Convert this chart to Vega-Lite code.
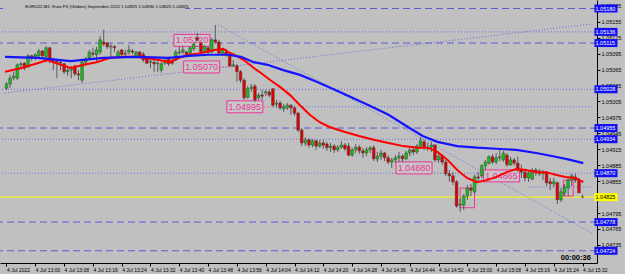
{
"$schema":"https://vega.github.io/schema/vega-lite/v6.json",
"width":597,"height":263,"autosize":"none",
"padding":{"left":0,"top":0,"right":28,"bottom":11},
"background":"#c0c0c0",
"config":{"view":{"stroke":null},"font":"Liberation Sans"},
"resolve":{"axis":{"x":"independent","y":"independent"}},
"datasets":{
"bars":[
{"m":0,"o":1.05030,"h":1.05042,"l":1.05027,"c":1.05038},
{"m":1,"o":1.05038,"h":1.05055,"l":1.05030,"c":1.05049},
{"m":2,"o":1.05049,"h":1.05061,"l":1.05045,"c":1.05053},
{"m":3,"o":1.05049,"h":1.05077,"l":1.05045,"c":1.05074},
{"m":4,"o":1.05074,"h":1.05079,"l":1.05068,"c":1.05076},
{"m":5,"o":1.05077,"h":1.05079,"l":1.05064,"c":1.05068},
{"m":6,"o":1.05070,"h":1.05094,"l":1.05068,"c":1.05091},
{"m":7,"o":1.05091,"h":1.05093,"l":1.05081,"c":1.05087},
{"m":8,"o":1.05087,"h":1.05096,"l":1.05083,"c":1.05093},
{"m":9,"o":1.05091,"h":1.05104,"l":1.05087,"c":1.05100},
{"m":10,"o":1.05100,"h":1.05102,"l":1.05087,"c":1.05091},
{"m":11,"o":1.05089,"h":1.05109,"l":1.05079,"c":1.05106},
{"m":12,"o":1.05106,"h":1.05108,"l":1.05077,"c":1.05083},
{"m":13,"o":1.05083,"h":1.05087,"l":1.05064,"c":1.05081},
{"m":14,"o":1.05081,"h":1.05085,"l":1.05049,"c":1.05079},
{"m":15,"o":1.05079,"h":1.05081,"l":1.05064,"c":1.05077},
{"m":16,"o":1.05076,"h":1.05077,"l":1.05057,"c":1.05061},
{"m":17,"o":1.05061,"h":1.05072,"l":1.05053,"c":1.05064},
{"m":18,"o":1.05064,"h":1.05072,"l":1.05049,"c":1.05068},
{"m":19,"o":1.05072,"h":1.05074,"l":1.05053,"c":1.05057},
{"m":20,"o":1.05057,"h":1.05064,"l":1.05045,"c":1.05055},
{"m":21,"o":1.05045,"h":1.05083,"l":1.05040,"c":1.05079},
{"m":22,"o":1.05079,"h":1.05089,"l":1.05072,"c":1.05083},
{"m":23,"o":1.05087,"h":1.05102,"l":1.05083,"c":1.05098},
{"m":24,"o":1.05096,"h":1.05106,"l":1.05089,"c":1.05094},
{"m":25,"o":1.05093,"h":1.05108,"l":1.05079,"c":1.05102},
{"m":26,"o":1.05098,"h":1.05128,"l":1.05093,"c":1.05121},
{"m":27,"o":1.05117,"h":1.05140,"l":1.05109,"c":1.05113},
{"m":28,"o":1.05115,"h":1.05117,"l":1.05104,"c":1.05108},
{"m":29,"o":1.05108,"h":1.05113,"l":1.05087,"c":1.05109},
{"m":30,"o":1.05108,"h":1.05111,"l":1.05098,"c":1.05106},
{"m":31,"o":1.05089,"h":1.05102,"l":1.05087,"c":1.05098},
{"m":32,"o":1.05102,"h":1.05104,"l":1.05091,"c":1.05093},
{"m":33,"o":1.05094,"h":1.05102,"l":1.05091,"c":1.05096},
{"m":34,"o":1.05098,"h":1.05111,"l":1.05093,"c":1.05102},
{"m":35,"o":1.05100,"h":1.05104,"l":1.05094,"c":1.05098},
{"m":36,"o":1.05089,"h":1.05100,"l":1.05087,"c":1.05098},
{"m":37,"o":1.05098,"h":1.05100,"l":1.05087,"c":1.05089},
{"m":38,"o":1.05094,"h":1.05098,"l":1.05079,"c":1.05083},
{"m":39,"o":1.05087,"h":1.05089,"l":1.05076,"c":1.05077},
{"m":40,"o":1.05079,"h":1.05087,"l":1.05068,"c":1.05080},
{"m":41,"o":1.05079,"h":1.05083,"l":1.05061,"c":1.05076},
{"m":42,"o":1.05076,"h":1.05083,"l":1.05061,"c":1.05077},
{"m":43,"o":1.05064,"h":1.05079,"l":1.05059,"c":1.05076},
{"m":44,"o":1.05077,"h":1.05085,"l":1.05074,"c":1.05083},
{"m":45,"o":1.05087,"h":1.05089,"l":1.05072,"c":1.05076},
{"m":46,"o":1.05081,"h":1.05085,"l":1.05074,"c":1.05077},
{"m":47,"o":1.05083,"h":1.05102,"l":1.05081,"c":1.05098},
{"m":48,"o":1.05098,"h":1.05108,"l":1.05093,"c":1.05097},
{"m":49,"o":1.05098,"h":1.05109,"l":1.05094,"c":1.05102},
{"m":50,"o":1.05098,"h":1.05100,"l":1.05091,"c":1.05093},
{"m":51,"o":1.05096,"h":1.05109,"l":1.05094,"c":1.05106},
{"m":52,"o":1.05104,"h":1.05117,"l":1.05100,"c":1.05113},
{"m":53,"o":1.05125,"h":1.05134,"l":1.05119,"c":1.05120},
{"m":54,"o":1.05115,"h":1.05117,"l":1.05096,"c":1.05098},
{"m":55,"o":1.05098,"h":1.05111,"l":1.05096,"c":1.05108},
{"m":56,"o":1.05106,"h":1.05109,"l":1.05094,"c":1.05098},
{"m":57,"o":1.05098,"h":1.05125,"l":1.05096,"c":1.05121},
{"m":58,"o":1.05121,"h":1.05149,"l":1.05113,"c":1.05117},
{"m":59,"o":1.05117,"h":1.05121,"l":1.05093,"c":1.05096},
{"m":60,"o":1.05096,"h":1.05106,"l":1.05091,"c":1.05102},
{"m":61,"o":1.05098,"h":1.05104,"l":1.05089,"c":1.05093},
{"m":62,"o":1.05093,"h":1.05094,"l":1.05070,"c":1.05072},
{"m":63,"o":1.05072,"h":1.05083,"l":1.05070,"c":1.05074},
{"m":64,"o":1.05072,"h":1.05076,"l":1.05042,"c":1.05061},
{"m":65,"o":1.05061,"h":1.05064,"l":1.05040,"c":1.05045},
{"m":66,"o":1.05045,"h":1.05049,"l":1.05008,"c":1.05012},
{"m":67,"o":1.05013,"h":1.05034,"l":1.05010,"c":1.05029},
{"m":68,"o":1.05029,"h":1.05038,"l":1.05023,"c":1.05032},
{"m":69,"o":1.05034,"h":1.05038,"l":1.05004,"c":1.05008},
{"m":70,"o":1.05012,"h":1.05021,"l":1.05008,"c":1.05017},
{"m":71,"o":1.05017,"h":1.05027,"l":1.05008,"c":1.05015},
{"m":72,"o":1.05021,"h":1.05027,"l":1.05015,"c":1.05023},
{"m":73,"o":1.05023,"h":1.05027,"l":1.05013,"c":1.05017},
{"m":74,"o":1.05029,"h":1.05030,"l":1.04995,"c":1.04998},
{"m":75,"o":1.05000,"h":1.05008,"l":1.04993,"c":1.05002},
{"m":76,"o":1.05002,"h":1.05006,"l":1.04989,"c":1.04993},
{"m":77,"o":1.04991,"h":1.05000,"l":1.04985,"c":1.04995},
{"m":78,"o":1.04993,"h":1.05002,"l":1.04989,"c":1.04998},
{"m":79,"o":1.04998,"h":1.05000,"l":1.04980,"c":1.04993},
{"m":80,"o":1.04993,"h":1.04997,"l":1.04978,"c":1.04983},
{"m":81,"o":1.04983,"h":1.04985,"l":1.04948,"c":1.04951},
{"m":82,"o":1.04951,"h":1.04955,"l":1.04921,"c":1.04927},
{"m":83,"o":1.04927,"h":1.04938,"l":1.04921,"c":1.04933},
{"m":84,"o":1.04933,"h":1.04936,"l":1.04918,"c":1.04923},
{"m":85,"o":1.04923,"h":1.04934,"l":1.04919,"c":1.04931},
{"m":86,"o":1.04931,"h":1.04933,"l":1.04914,"c":1.04921},
{"m":87,"o":1.04921,"h":1.04933,"l":1.04918,"c":1.04927},
{"m":88,"o":1.04927,"h":1.04933,"l":1.04916,"c":1.04923},
{"m":89,"o":1.04925,"h":1.04929,"l":1.04912,"c":1.04918},
{"m":90,"o":1.04918,"h":1.04927,"l":1.04910,"c":1.04921},
{"m":91,"o":1.04921,"h":1.04925,"l":1.04908,"c":1.04914},
{"m":92,"o":1.04914,"h":1.04923,"l":1.04910,"c":1.04919},
{"m":93,"o":1.04919,"h":1.04931,"l":1.04916,"c":1.04923},
{"m":94,"o":1.04923,"h":1.04927,"l":1.04912,"c":1.04916},
{"m":95,"o":1.04921,"h":1.04927,"l":1.04902,"c":1.04904},
{"m":96,"o":1.04904,"h":1.04918,"l":1.04901,"c":1.04914},
{"m":97,"o":1.04914,"h":1.04925,"l":1.04908,"c":1.04919},
{"m":98,"o":1.04919,"h":1.04923,"l":1.04906,"c":1.04912},
{"m":99,"o":1.04912,"h":1.04918,"l":1.04899,"c":1.04908},
{"m":100,"o":1.04908,"h":1.04919,"l":1.04902,"c":1.04914},
{"m":101,"o":1.04914,"h":1.04921,"l":1.04908,"c":1.04918},
{"m":102,"o":1.04918,"h":1.04923,"l":1.04893,"c":1.04897},
{"m":103,"o":1.04897,"h":1.04910,"l":1.04891,"c":1.04902},
{"m":104,"o":1.04902,"h":1.04914,"l":1.04895,"c":1.04908},
{"m":105,"o":1.04908,"h":1.04910,"l":1.04893,"c":1.04899},
{"m":106,"o":1.04899,"h":1.04904,"l":1.04887,"c":1.04891},
{"m":107,"o":1.04891,"h":1.04899,"l":1.04880,"c":1.04895},
{"m":108,"o":1.04895,"h":1.04904,"l":1.04889,"c":1.04899},
{"m":109,"o":1.04899,"h":1.04910,"l":1.04891,"c":1.04902},
{"m":110,"o":1.04902,"h":1.04906,"l":1.04891,"c":1.04897},
{"m":111,"o":1.04897,"h":1.04912,"l":1.04895,"c":1.04908},
{"m":112,"o":1.04908,"h":1.04918,"l":1.04902,"c":1.04914},
{"m":113,"o":1.04914,"h":1.04919,"l":1.04904,"c":1.04910},
{"m":114,"o":1.04910,"h":1.04925,"l":1.04906,"c":1.04921},
{"m":115,"o":1.04921,"h":1.04938,"l":1.04918,"c":1.04931},
{"m":116,"o":1.04929,"h":1.04933,"l":1.04914,"c":1.04918},
{"m":117,"o":1.04918,"h":1.04927,"l":1.04912,"c":1.04919},
{"m":118,"o":1.04919,"h":1.04929,"l":1.04910,"c":1.04923},
{"m":119,"o":1.04923,"h":1.04925,"l":1.04891,"c":1.04895},
{"m":120,"o":1.04895,"h":1.04908,"l":1.04889,"c":1.04902},
{"m":121,"o":1.04902,"h":1.04906,"l":1.04886,"c":1.04891},
{"m":122,"o":1.04891,"h":1.04895,"l":1.04865,"c":1.04869},
{"m":123,"o":1.04869,"h":1.04876,"l":1.04854,"c":1.04865},
{"m":124,"o":1.04865,"h":1.04872,"l":1.04848,"c":1.04854},
{"m":125,"o":1.04854,"h":1.04857,"l":1.04805,"c":1.04808},
{"m":126,"o":1.04810,"h":1.04823,"l":1.04797,"c":1.04812},
{"m":127,"o":1.04810,"h":1.04831,"l":1.04801,"c":1.04827},
{"m":128,"o":1.04827,"h":1.04848,"l":1.04820,"c":1.04842},
{"m":129,"o":1.04842,"h":1.04850,"l":1.04827,"c":1.04838},
{"m":130,"o":1.04835,"h":1.04867,"l":1.04831,"c":1.04863},
{"m":131,"o":1.04863,"h":1.04872,"l":1.04854,"c":1.04861},
{"m":132,"o":1.04865,"h":1.04887,"l":1.04861,"c":1.04884},
{"m":133,"o":1.04884,"h":1.04895,"l":1.04876,"c":1.04891},
{"m":134,"o":1.04889,"h":1.04904,"l":1.04886,"c":1.04901},
{"m":135,"o":1.04901,"h":1.04906,"l":1.04887,"c":1.04891},
{"m":136,"o":1.04891,"h":1.04908,"l":1.04887,"c":1.04899},
{"m":137,"o":1.04899,"h":1.04914,"l":1.04893,"c":1.04901},
{"m":138,"o":1.04895,"h":1.04912,"l":1.04891,"c":1.04908},
{"m":139,"o":1.04904,"h":1.04908,"l":1.04882,"c":1.04886},
{"m":140,"o":1.04886,"h":1.04901,"l":1.04884,"c":1.04895},
{"m":141,"o":1.04895,"h":1.04899,"l":1.04884,"c":1.04889},
{"m":142,"o":1.04889,"h":1.04901,"l":1.04872,"c":1.04876},
{"m":143,"o":1.04876,"h":1.04886,"l":1.04861,"c":1.04872},
{"m":144,"o":1.04872,"h":1.04876,"l":1.04855,"c":1.04861},
{"m":145,"o":1.04861,"h":1.04874,"l":1.04854,"c":1.04870},
{"m":146,"o":1.04859,"h":1.04880,"l":1.04857,"c":1.04876},
{"m":147,"o":1.04876,"h":1.04880,"l":1.04865,"c":1.04872},
{"m":148,"o":1.04874,"h":1.04878,"l":1.04865,"c":1.04869},
{"m":149,"o":1.04869,"h":1.04876,"l":1.04857,"c":1.04872},
{"m":150,"o":1.04872,"h":1.04874,"l":1.04846,"c":1.04852},
{"m":151,"o":1.04854,"h":1.04861,"l":1.04838,"c":1.04850},
{"m":152,"o":1.04850,"h":1.04861,"l":1.04844,"c":1.04854},
{"m":153,"o":1.04852,"h":1.04854,"l":1.04812,"c":1.04820},
{"m":154,"o":1.04820,"h":1.04842,"l":1.04816,"c":1.04835},
{"m":155,"o":1.04833,"h":1.04850,"l":1.04827,"c":1.04844},
{"m":156,"o":1.04842,"h":1.04861,"l":1.04827,"c":1.04857},
{"m":157,"o":1.04857,"h":1.04869,"l":1.04846,"c":1.04865},
{"m":158,"o":1.04863,"h":1.04869,"l":1.04852,"c":1.04857},
{"m":159,"o":1.04857,"h":1.04861,"l":1.04833,"c":1.04833},
{"m":160,"o":1.04825,"h":1.04830,"l":1.04825,"c":1.04825}
],
"red":[
{"m":-0.41,"p":1.05061},{"m":4.23,"p":1.05068},{"m":8.6,"p":1.05077},{"m":11.33,"p":1.05083},{"m":15.16,"p":1.05074},{"m":17.89,"p":1.05068},{"m":21.44,"p":1.05074},{"m":24.99,"p":1.05079},{"m":28.81,"p":1.05087},{"m":32.36,"p":1.05089},{"m":35.91,"p":1.05089},{"m":38.64,"p":1.05087},{"m":42.46,"p":1.05083},{"m":45.19,"p":1.05079},{"m":47.92,"p":1.05087},{"m":50.66,"p":1.05093},{"m":54.2,"p":1.05096},{"m":57.76,"p":1.05102},{"m":60.21,"p":1.05104},{"m":61.58,"p":1.05098},{"m":63.22,"p":1.05093},{"m":65.95,"p":1.05083},{"m":68.68,"p":1.05068},{"m":70.59,"p":1.05059},{"m":73.32,"p":1.05045},{"m":76.05,"p":1.05032},{"m":78.78,"p":1.05017},{"m":81.51,"p":1.04998},{"m":84.24,"p":1.04980},{"m":86.98,"p":1.04966},{"m":89.71,"p":1.04957},{"m":93.8,"p":1.04948},{"m":97.9,"p":1.04940},{"m":102.0,"p":1.04933},{"m":106.1,"p":1.04927},{"m":110.2,"p":1.04921},{"m":114.3,"p":1.04918},{"m":117.0,"p":1.04918},{"m":119.7,"p":1.04910},{"m":122.5,"p":1.04895},{"m":125.2,"p":1.04876},{"m":127.9,"p":1.04861},{"m":130.7,"p":1.04853},{"m":133.4,"p":1.04857},{"m":136.1,"p":1.04863},{"m":138.9,"p":1.04872},{"m":141.6,"p":1.04878},{"m":144.3,"p":1.04876},{"m":147.1,"p":1.04872},{"m":149.8,"p":1.04872},{"m":152.5,"p":1.04867},{"m":155.2,"p":1.04863},{"m":158.0,"p":1.04861},{"m":160.2,"p":1.04853}
],
"blue":[
{"m":-0.41,"p":1.05089},{"m":8.6,"p":1.05087},{"m":17.89,"p":1.05081},{"m":26.9,"p":1.05087},{"m":35.91,"p":1.05089},{"m":45.19,"p":1.05087},{"m":50.66,"p":1.05091},{"m":56.12,"p":1.05093},{"m":61.58,"p":1.05093},{"m":65.13,"p":1.05089},{"m":68.68,"p":1.05079},{"m":72.5,"p":1.05074},{"m":76.87,"p":1.05064},{"m":81.51,"p":1.05055},{"m":86.16,"p":1.05042},{"m":90.25,"p":1.05030},{"m":95.17,"p":1.05015},{"m":100.6,"p":1.04998},{"m":106.1,"p":1.04980},{"m":111.5,"p":1.04957},{"m":115.6,"p":1.04940},{"m":119.7,"p":1.04929},{"m":125.2,"p":1.04921},{"m":130.7,"p":1.04918},{"m":136.1,"p":1.04916},{"m":141.6,"p":1.04914},{"m":147.1,"p":1.04908},{"m":152.5,"p":1.04901},{"m":156.6,"p":1.04895},{"m":160.2,"p":1.04889}
],
"hl":[
{"p":1.05180,"k":"dash"},{"p":1.05115,"k":"dash"},{"p":1.04955,"k":"dash"},{"p":1.04778,"k":"dash"},{"p":1.04724,"k":"dash"},
{"p":1.05136,"k":"dot"},{"p":1.05028,"k":"dot"},{"p":1.04934,"k":"dot"},{"p":1.04870,"k":"dot"},
{"p":1.04825,"k":"bid"}
],
"part":[{"m1":74,"p":1.04995},{"m1":145,"p":1.04844}],
"trend":[{"m1":-0.41,"p1":1.05021,"m2":162.62,"p2":1.05151},{"m1":58.85,"p1":1.05149,"m2":162.62,"p2":1.04757}],
"ranges":[{"m1":154.7,"m2":157.4,"p1":1.04857,"p2":1.04827},{"m1":126.0,"m2":130.0,"p1":1.04842,"p2":1.04805}],
"labels":[{"m":51.5,"p":1.05120},{"m":54.2,"p":1.05070},{"m":66.2,"p":1.04995},{"m":113.2,"p":1.04880},{"m":137.5,"p":1.04865}],
"conn":[{"m1":59.1,"m2":63.2,"p":1.05070},{"m1":70.6,"m2":73.9,"p":1.04995}]
},
"layer":[
{"data":{"name":"hl"},"transform":[{"filter":"datum.k=='dash'"}],"mark":{"type":"rule","color":"#5a5ad8","strokeDash":[7,4],"strokeWidth":1},
 "encoding":{"y":{"field":"p","type":"quantitative","scale":{"domain":[1.04701,1.05196],"nice":false,"zero":false},"axis":null}}},
{"data":{"name":"hl"},"transform":[{"filter":"datum.k=='dot'"}],"mark":{"type":"rule","color":"#6a6ae6","strokeDash":[1,2],"strokeWidth":1},
 "encoding":{"y":{"field":"p","type":"quantitative","scale":{"domain":[1.04701,1.05196],"nice":false,"zero":false},"axis":null}}},
{"data":{"name":"hl"},"transform":[{"filter":"datum.k=='bid'"}],"mark":{"type":"rule","color":"#ffff00","strokeWidth":1},
 "encoding":{"y":{"field":"p","type":"quantitative","scale":{"domain":[1.04701,1.05196],"nice":false,"zero":false},"axis":null}}},
{"data":{"name":"part"},"mark":{"type":"rule","color":"#6a6ae6","strokeDash":[1,2],"strokeWidth":1},
 "encoding":{"x":{"field":"m1","type":"quantitative","scale":{"domain":[-0.41,162.62],"nice":false,"zero":false},"axis":null},"x2":{"datum":162.62},
 "y":{"field":"p","type":"quantitative","scale":{"domain":[1.04701,1.05196],"nice":false,"zero":false},"axis":null}}},
{"data":{"name":"trend"},"mark":{"type":"rule","color":"#6a6ae6","strokeDash":[1,2],"strokeWidth":1},
 "encoding":{"x":{"field":"m1","type":"quantitative","scale":{"domain":[-0.41,162.62],"nice":false,"zero":false},"axis":null},"x2":{"field":"m2"},
 "y":{"field":"p1","type":"quantitative","scale":{"domain":[1.04701,1.05196],"nice":false,"zero":false},"axis":null},"y2":{"field":"p2"}}},
{"data":{"values":[{"txt":"EURU22,M1:  Euro FX (Globex) September 2022  1.04825 1.04830 1.04825 1.04825"}]},
 "mark":{"type":"rect","fill":"#c0c0c0"},
 "encoding":{"x":{"datum":-0.41,"type":"quantitative","scale":{"domain":[-0.41,162.62],"nice":false,"zero":false},"axis":null},"x2":{"datum":49.6},
 "y":{"datum":1.05193,"type":"quantitative","scale":{"domain":[1.04701,1.05196],"nice":false,"zero":false},"axis":null},"y2":{"datum":1.05173}}},
{"data":{"name":"ranges"},"mark":{"type":"rect","fill":null,"stroke":"#ee3399","strokeWidth":1},
 "encoding":{"x":{"field":"m1","type":"quantitative","scale":{"domain":[-0.41,162.62],"nice":false,"zero":false},"axis":null},"x2":{"field":"m2"},
 "y":{"field":"p1","type":"quantitative","scale":{"domain":[1.04701,1.05196],"nice":false,"zero":false},"axis":null},"y2":{"field":"p2"}}},
{"data":{"name":"conn"},"mark":{"type":"rule","color":"#ee3399","strokeDash":[1,2],"strokeWidth":1},
 "encoding":{"x":{"field":"m1","type":"quantitative","scale":{"domain":[-0.41,162.62],"nice":false,"zero":false},"axis":null},"x2":{"field":"m2"},
 "y":{"field":"p","type":"quantitative","scale":{"domain":[1.04701,1.05196],"nice":false,"zero":false},"axis":null}}},
{"data":{"name":"labels"},"mark":{"type":"rect","width":36,"height":12,"fill":"#c6c6c6","stroke":"#ee3399","strokeWidth":1},
 "encoding":{"x":{"field":"m","type":"quantitative","scale":{"domain":[-0.41,162.62],"nice":false,"zero":false},"axis":null},
 "y":{"field":"p","type":"quantitative","scale":{"domain":[1.04701,1.05196],"nice":false,"zero":false},"axis":null}}},
{"data":{"name":"labels"},"mark":{"type":"text","fontSize":9,"color":"#ee3399","align":"center","baseline":"middle"},
 "encoding":{"x":{"field":"m","type":"quantitative","scale":{"domain":[-0.41,162.62],"nice":false,"zero":false},"axis":null},
 "y":{"field":"p","type":"quantitative","scale":{"domain":[1.04701,1.05196],"nice":false,"zero":false},"axis":null},
 "text":{"field":"p","type":"quantitative","format":".5f"}}},
{"data":{"name":"bars"},"mark":{"type":"rule","color":"#5a5a5a","strokeWidth":1},
 "encoding":{"x":{"field":"m","type":"quantitative","scale":{"domain":[-0.41,162.62],"nice":false,"zero":false},"axis":null},
 "y":{"field":"l","type":"quantitative","scale":{"domain":[1.04701,1.05196],"nice":false,"zero":false},"axis":null},"y2":{"field":"h"}}},
{"data":{"name":"bars"},"mark":{"type":"bar","size":2.7,"stroke":"#404040","strokeWidth":0.5},
 "encoding":{"x":{"field":"m","type":"quantitative","scale":{"domain":[-0.41,162.62],"nice":false,"zero":false},
   "axis":{"orient":"bottom","title":null,"values":[0,8,16,24,32,40,48,56,64,72,80,88,96,104,112,120,128,136,144,152,160],
   "labelExpr":"datum.value == 0 ? '4 Jul 2022' : '4 Jul ' + floor((772 + datum.value) / 60) + ':' + (((772 + datum.value) % 60) < 10 ? '0' : '') + ((772 + datum.value) % 60)",
   "labelAlign":"left","labelBaseline":"top","labelFontSize":5,"labelPadding":1,"tickSize":3,"tickColor":"#000","domainColor":"#000","labelColor":"#000","grid":false,"labelOverlap":false,"labelFlush":false}},
 "y":{"field":"o","type":"quantitative","scale":{"domain":[1.04701,1.05196],"nice":false,"zero":false},
   "axis":{"orient":"right","title":null,"values":[1.04735,1.04765,1.04795,1.04855,1.04885,1.04915,1.04945,1.04975,1.05005,1.05035,1.05065,1.05095,1.05125,1.05155,1.05185],
   "format":".5f","labelFontSize":5.5,"labelPadding":1,"tickSize":3,"tickColor":"#000","domainColor":"#000","labelColor":"#000","grid":false,"labelOverlap":false,"labelFlush":false}},
 "y2":{"field":"c"},
 "fill":{"condition":[{"test":"datum.c > datum.o","value":"#14c214"},{"test":"datum.c < datum.o","value":"#e00000"}],"value":"#707070"}}},
{"data":{"name":"red"},"mark":{"type":"line","color":"#ff0000","strokeWidth":2},
 "encoding":{"x":{"field":"m","type":"quantitative","scale":{"domain":[-0.41,162.62],"nice":false,"zero":false},"axis":null},
 "y":{"field":"p","type":"quantitative","scale":{"domain":[1.04701,1.05196],"nice":false,"zero":false},"axis":null}}},
{"data":{"name":"blue"},"mark":{"type":"line","color":"#1414ff","strokeWidth":2.2},
 "encoding":{"x":{"field":"m","type":"quantitative","scale":{"domain":[-0.41,162.62],"nice":false,"zero":false},"axis":null},
 "y":{"field":"p","type":"quantitative","scale":{"domain":[1.04701,1.05196],"nice":false,"zero":false},"axis":null}}},
{"data":{"name":"hl"},"mark":{"type":"rect","height":8},
 "encoding":{"x":{"datum":163.3,"type":"quantitative","scale":{"domain":[-0.41,162.62],"nice":false,"zero":false},"axis":null},"x2":{"datum":169.7},
 "y":{"field":"p","type":"quantitative","scale":{"domain":[1.04701,1.05196],"nice":false,"zero":false},"axis":null},
 "fill":{"condition":{"test":"datum.k=='bid'","value":"#ffff00"},"value":"#1010f0"}}},
{"data":{"name":"hl"},"mark":{"type":"text","fontSize":5.5,"align":"left","baseline":"middle"},
 "encoding":{"x":{"datum":163.6,"type":"quantitative","scale":{"domain":[-0.41,162.62],"nice":false,"zero":false},"axis":null},
 "y":{"field":"p","type":"quantitative","scale":{"domain":[1.04701,1.05196],"nice":false,"zero":false},"axis":null},
 "text":{"field":"p","type":"quantitative","format":".5f"},
 "color":{"condition":{"test":"datum.k=='bid'","value":"#000000"},"value":"#ffffff"}}},
{"data":{"values":[{"txt":"EURU22,M1:  Euro FX (Globex) September 2022  1.04825 1.04830 1.04825 1.04825"}]},
 "mark":{"type":"text","fontSize":4.4,"align":"left","baseline":"middle","color":"#000"},
 "encoding":{"x":{"datum":5.2,"type":"quantitative","scale":{"domain":[-0.41,162.62],"nice":false,"zero":false},"axis":null},
 "y":{"datum":1.05182,"type":"quantitative","scale":{"domain":[1.04701,1.05196],"nice":false,"zero":false},"axis":null},
 "text":{"field":"txt"}}},
{"data":{"values":[{"txt":"00:00:36"}]},
 "mark":{"type":"text","fontSize":7.5,"fontWeight":"bold","align":"right","baseline":"middle","color":"#000"},
 "encoding":{"x":{"datum":162.3,"type":"quantitative","scale":{"domain":[-0.41,162.62],"nice":false,"zero":false},"axis":null},
 "y":{"datum":1.04711,"type":"quantitative","scale":{"domain":[1.04701,1.05196],"nice":false,"zero":false},"axis":null},
 "text":{"field":"txt"}}}
]
}
